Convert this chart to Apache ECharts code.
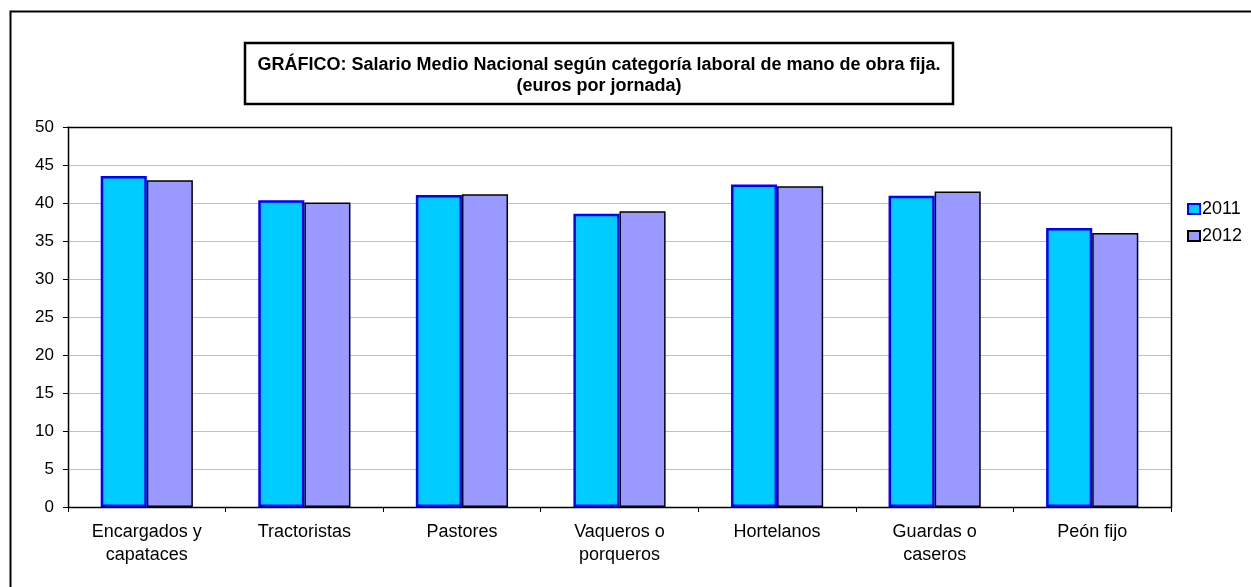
<!DOCTYPE html>
<html>
<head>
<meta charset="utf-8">
<script src="https://cdn.jsdelivr.net/npm/echarts@6/dist/echarts.min.js"></script>
<style>
html,body{margin:0;padding:0;background:#fff;}
#chart{width:1251px;height:587px;}
</style>
</head>
<body>
<div id="chart"></div>
<script>
const categories = ["Encargados y\ncapataces", "Tractoristas", "Pastores", "Vaqueros o\nporqueros", "Hortelanos", "Guardas o\ncaseros", "Peón fijo"];
const values2011 = [43.55, 40.35, 41.05, 38.6, 42.45, 40.95, 36.7];
const values2012 = [43.0, 40.05, 41.15, 38.9, 42.2, 41.5, 36.05];
const seriesNames = ["2011", "2012"];
const titleLines = ["GRÁFICO: Salario Medio Nacional según categoría laboral de mano de obra fija.", "(euros por jornada)"];

const chart = echarts.init(document.getElementById('chart'), null, {renderer: 'canvas'});
const font = '"Liberation Sans", Arial, sans-serif';
const G = {left: 68, top: 127, width: 1103, height: 380};
chart.setOption({
  animation: false,
  backgroundColor: '#fff',
  textStyle: {fontFamily: font},
  grid: {left: G.left, top: G.top, width: G.width, height: G.height, containLabel: false},
  legend: {
    orient: 'vertical', left: 1182, top: 195, icon: 'rect', itemWidth: 12, itemHeight: 10,
    itemGap: 9, textStyle: {fontSize: 18, color: '#000', fontFamily: font, padding: [0,0,0,-3]},
    data: seriesNames
  },
  graphic: [
    {type: 'rect', shape: {x: 10.5, y: 11.5, width: 1300, height: 700}, style: {fill: 'none', stroke: '#000', lineWidth: 2}, silent: true, z: -1},
    {type: 'rect', shape: {x: G.left + 0.5, y: G.top + 0.5, width: G.width, height: G.height}, style: {fill: 'none', stroke: '#000', lineWidth: 1.5}, silent: true, z: 5},
    {type: 'rect', shape: {x: 245, y: 43, width: 708, height: 61}, style: {fill: '#fff', stroke: '#000', lineWidth: 2.5}, z: 10},
    {type: 'text', x: 599, y: 65, style: {text: titleLines[0], font: 'bold 18px ' + font, fill: '#000', align: 'center', verticalAlign: 'middle'}, z: 11},
    {type: 'text', x: 599, y: 86, style: {text: titleLines[1], font: 'bold 18px ' + font, fill: '#000', align: 'center', verticalAlign: 'middle'}, z: 11}
  ],
  xAxis: {
    type: 'category', data: categories,
    axisLine: {lineStyle: {color: '#000', width: 1}},
    axisTick: {show: true, length: 5, lineStyle: {color: '#000'}},
    axisLabel: {fontSize: 18, color: '#000', fontFamily: font, lineHeight: 23, margin: 14}
  },
  yAxis: {
    type: 'value', min: 0, max: 50, interval: 5,
    axisLine: {show: true, lineStyle: {color: '#000', width: 1}},
    axisTick: {show: true, length: 5, lineStyle: {color: '#000'}},
    axisLabel: {fontSize: 17, color: '#000', fontFamily: font, margin: 14},
    splitLine: {lineStyle: {color: '#c0c0c0', width: 1}}
  },
  series: [
    {name: seriesNames[0], type: 'bar', data: values2011, barGap: '0%', barCategoryGap: '41.5%',
     itemStyle: {color: '#00CCFF', borderColor: '#0000FF', borderWidth: 2.5}},
    {name: seriesNames[1], type: 'bar', data: values2012,
     itemStyle: {color: '#9999FF', borderColor: '#000', borderWidth: 1.5}}
  ]
});
</script>
</body>
</html>
